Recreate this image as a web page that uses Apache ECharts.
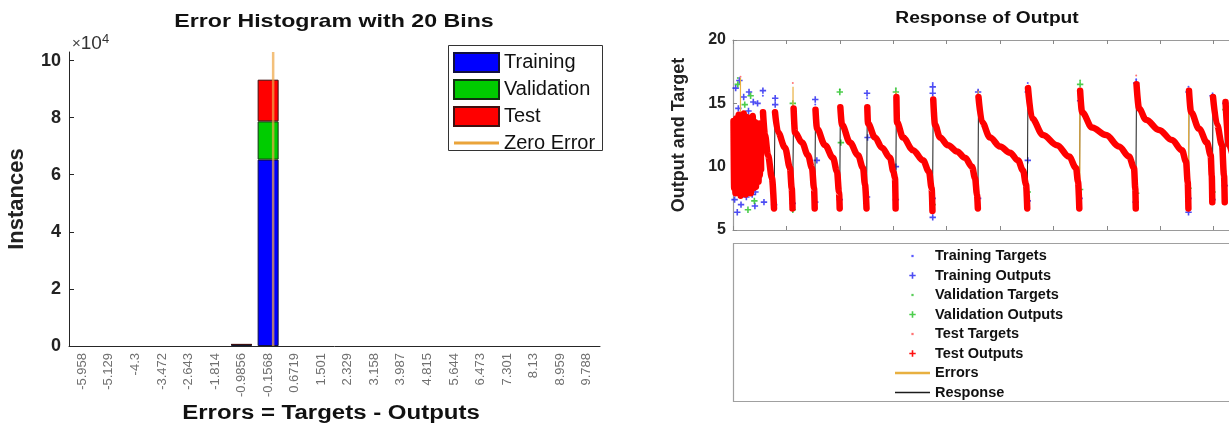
<!DOCTYPE html>
<html>
<head>
<meta charset="utf-8">
<script src="https://cdn.jsdelivr.net/npm/echarts@6/dist/echarts.min.js"></script>
<style>
html,body{margin:0;padding:0;background:#fff;}
#chart{width:1229px;height:427px;}
</style>
</head>
<body>
<div id="chart"></div>
<script>
// ---------- Left: error histogram ----------
const binLabels = ['-5.958','-5.129','-4.3','-3.472','-2.643','-1.814','-0.9856','-0.1568','0.6719','1.501','2.329','3.158','3.987','4.815','5.644','6.473','7.301','8.13','8.959','9.788'];
const trainingCounts   = [0,0,0,0,0,0,400,65300,0,0,0,0,0,0,0,0,0,0,0,0];
const validationCounts = [0,0,0,0,0,0,100,13400,0,0,0,0,0,0,0,0,0,0,0,0];
const testCounts       = [0,0,0,0,0,0,100,14600,0,0,0,0,0,0,0,0,0,0,0,0];
const histYTicks = [0, 2, 4, 6, 8, 10];          // ×10^4
const zeroErrorLine = [[0, 0], [0, 103000]];
const errorRange = [-6.3724, 10.2024];           // outer bin edges

// ---------- Right: response of output (x in thousands of samples) ----------
const noiseBlockY = [13.6,8.3,13.2,7.9,13.8,8.6,12.9,8.0,14.1,8.4,13.4,7.7,13.7,8.9,13.0,8.1,14.2,8.5,13.5,7.8,13.1,8.7,13.9,8.2,12.8,9.0,13.6,7.9,13.3,8.6,14.0,8.3,12.7,8.9,13.5,8.4,13.2,9.1,12.9,8.8,13.4,9.3,12.6,9.8];
const noiseBlockStep = 0.12;
const responseSegments = [
  [[5.62,14.3],[5.99,12.5],[6.55,10.9],[7.30,9.1],[7.68,6.7]],
  [[7.87,14.3],[8.43,12.7],[9.74,11.5],[10.67,9.9],[11.0,8.3],[11.15,6.7]],
  [[11.35,14.6],[11.61,12.7],[12.92,11.9],[14.04,10.9],[14.79,9.9],[15.17,8.3],[15.30,6.7]],
  [[15.45,14.5],[15.73,13.0],[17.23,11.7],[18.73,10.7],[19.48,9.6],[19.85,8.0],[19.98,6.7]],
  [[20.10,14.7],[20.41,13.3],[21.91,11.9],[23.41,10.9],[24.34,9.9],[24.72,8.6],[25.0,6.7]],
  [[25.15,14.7],[25.28,13.4],[26.59,12.3],[27.90,11.5],[29.40,10.7],[30.05,9.6],[30.34,9.1],[30.45,6.7]],
  [[30.60,15.5],[30.71,13.5],[31.84,12.3],[33.71,11.3],[35.58,10.5],[36.70,9.6],[37.2,8.3],[37.35,6.5]],
  [[37.50,15.3],[37.83,13.3],[38.76,12.3],[40.26,11.7],[41.95,11.2],[43.45,10.7],[44.76,10.0],[45.32,9.1],[45.69,7.8],[45.85,6.7]],
  [[45.97,15.5],[46.63,13.5],[48.13,12.3],[50.0,11.6],[51.87,11.1],[53.37,10.5],[54.31,9.7],[54.87,8.6],[55.10,6.7]],
  [[55.24,16.2],[55.99,13.8],[58.05,12.5],[60.67,11.7],[62.92,10.8],[64.23,9.9],[64.61,8.8],[64.85,6.7]],
  [[65.00,16.0],[65.36,14.3],[67.23,13.1],[69.85,12.5],[72.28,11.6],[74.16,10.8],[75.09,9.9],[75.33,8.3],[75.42,6.7]],
  [[75.56,16.5],[76.03,14.6],[77.34,13.7],[79.78,12.9],[82.21,12.1],[84.08,11.3],[84.83,10.4],[85.15,8.8],[85.28,6.7]],
  [[85.39,16.0],[85.77,14.3],[87.27,13.0],[88.76,11.9],[89.45,10.9],[89.65,9.3],[89.75,7.2]],
  [[89.89,15.5],[90.64,13.3],[91.57,11.7],[91.95,9.3],[92.08,7.2]],
  [[92.23,15.1],[92.88,11.7],[93.60,10.8]]
];
const trainingOutputs = [[0.5,16.2],[1.2,16.8],[2.0,15.5],[3.0,15.9],[3.8,15.1],[4.6,15.0],[1.0,14.6],[0.3,7.4],[1.5,7.0],[2.5,7.6],[3.6,7.8],[0.8,6.4],[4.2,8.0],[2.9,14.4],[4.1,6.9],
  [5.6,16.0],[5.8,7.2],[7.9,15.4],[7.9,14.9],[7.7,7.0],[11.2,7.1],[15.4,15.3],[15.7,10.5],[15.4,7.2],[20.0,7.4],[25.1,15.8],[25.2,12.3],[25.1,7.6],
  [30.5,10.0],[30.5,7.4],[37.4,16.3],[37.4,15.8],[37.4,7.5],[37.4,6.0],[45.9,7.5],[45.9,15.9],[55.2,15.9],[55.2,10.5],[55.2,7.3],[64.9,7.5],[65.0,15.2],
  [75.4,7.2],[75.5,16.6],[85.3,15.9],[85.3,7.5],[85.3,6.4],[89.8,7.4],[89.8,15.6],[92.2,15.0],[92.1,8.5]];
const validationOutputs = [[0.9,16.5],[2.2,14.9],[3.3,15.6],[1.8,8.3],[2.8,6.6],[4.0,7.3],[11.2,6.6],[11.2,15.0],[20.0,15.9],[20.2,11.9],
  [30.5,15.9],[37.4,7.0],[55.2,8.0],[65.0,16.5],[65.0,8.2],[75.5,7.9],[85.3,8.3],[89.8,8.0],[92.2,14.5]];
const trainingTargets = [[5.6,15.6],[15.4,14.9],[25.1,15.4],[37.4,16.6],[55.2,16.6],[75.5,16.9],[85.3,16.3]];
const validationTargets = [[0.9,17.0],[20.0,16.1],[30.5,16.2],[65.0,16.8]];
const testTargets = [[1.4,17.1],[11.2,16.6],[45.9,16.0],[75.5,17.2]];
const errorSegments = [
  [[1.4,14.2],[1.4,17.0]],[[11.24,14.6],[11.24,16.3]],[[30.55,13.5],[30.55,15.9]],
  [[64.95,6.7],[64.95,16.0]],[[85.33,6.7],[85.33,16.0]],[[45.92,15.5],[45.92,16.0]]
];

// ---------- build series data ----------
const noBlank = arr => arr.map(v => (v === 0 ? null : v));
const noisePoints = noiseBlockY.map((y, i) => [0.1 + i * noiseBlockStep, y]);
const responseLine = noisePoints.concat(...responseSegments);
const testOutputLine = [];
[noisePoints].concat(responseSegments).forEach((seg, k) => {
  if (k > 0) testOutputLine.push([seg[0][0], null]);
  seg.forEach(p => testOutputLine.push(p));
});
const errorLine = [];
errorSegments.forEach((s, k) => { if (k > 0) errorLine.push([s[0][0], null]); errorLine.push(s[0], s[1]); });

const FONT = '"Liberation Sans", Arial, Helvetica, sans-serif';
const PLUS = 'path://M0 0M10 10M4 1h2v3h3v2h-3v3h-2v-3h-3v-2h3z';
const DOT = 'path://M0 0M10 10M3.6 3.6h2.8v2.8h-2.8z';
const LINE_L = 'path://M0 0H45V3H0Z';
const LINE_R = 'path://M0 0H35V2.6H0Z';
const LINE_R2 = 'path://M0 0H35V1.4H0Z';
const RIGHT_MAX = 92.88;   // visible end of the response axis (figure is cropped)

const chart = echarts.init(document.getElementById('chart'), null, {renderer: 'canvas'});
chart.setOption({
  animation: false,
  backgroundColor: '#fff',
  textStyle: {fontFamily: FONT},
  grid: [
    {left: 69, top: 52, width: 531, height: 294, containLabel: false},
    {left: 733, top: 40, width: 496, height: 190, show: false}
  ],
  xAxis: [
    {type: 'category', gridIndex: 0, data: binLabels,
     axisLine: {onZero: false, lineStyle: {color: '#262626', width: 1}},
     axisTick: {inside: true, alignWithLabel: true, length: 5, lineStyle: {color: '#262626'}},
     axisLabel: {rotate: 90, color: '#707070', fontSize: 13, margin: 7, fontFamily: FONT},
     splitLine: {show: false}},
    {type: 'value', gridIndex: 0, min: errorRange[0], max: errorRange[1], show: false,
     axisLine: {show: false, onZero: false}, axisTick: {show: false}, axisLabel: {show: false}, splitLine: {show: false}},
    {type: 'value', gridIndex: 1, min: 0, max: RIGHT_MAX, interval: 10, position: 'bottom',
     axisLine: {show: true, onZero: false, lineStyle: {color: '#9a9a9a', width: 1.2}}, axisTick: {inside: true, length: 4, lineStyle: {color: '#888'}},
     axisLabel: {show: false}, splitLine: {show: false}},
    {type: 'value', gridIndex: 1, min: 0, max: RIGHT_MAX, interval: 10, position: 'top',
     axisLine: {show: true, onZero: false, lineStyle: {color: '#9a9a9a', width: 1.2}}, axisTick: {inside: true, length: 4, lineStyle: {color: '#888'}},
     axisLabel: {show: false}, splitLine: {show: false}}
  ],
  yAxis: [
    {type: 'value', gridIndex: 0, min: 0, max: 103000, interval: 20000,
     axisLine: {show: true, onZero: false, lineStyle: {color: '#262626'}},
     axisTick: {show: true, inside: true, length: 5, lineStyle: {color: '#262626'}},
     axisLabel: {showMaxLabel: false, color: '#222', fontSize: 18, fontWeight: 'bold', margin: 8,
       formatter: v => (histYTicks.includes(v / 10000) ? String(v / 10000) : '')},
     splitLine: {show: false},
     name: 'Instances', nameLocation: 'middle', nameGap: 41,
     nameTextStyle: {fontSize: 22, fontWeight: 'bold', color: '#222', fontFamily: FONT}},
    {type: 'value', gridIndex: 1, min: 5, max: 20, interval: 5,
     axisLine: {show: true, onZero: false, lineStyle: {color: '#9a9a9a', width: 1.2}},
     axisTick: {show: true, inside: true, length: 4, lineStyle: {color: '#888'}},
     axisLabel: {color: '#222', fontSize: 16, fontWeight: 'bold', margin: 7},
     splitLine: {show: false},
     name: 'Output and Target', nameLocation: 'middle', nameGap: 45,
     nameTextStyle: {fontSize: 18, fontWeight: 'bold', color: '#222', fontFamily: FONT}}
  ],
  legend: [
    {left: 453, top: 52, orient: 'vertical', itemWidth: 45, itemHeight: 19, itemGap: 6,
     selectedMode: false, padding: 0,
     textStyle: {fontSize: 20, lineHeight: 19, color: '#111', fontFamily: FONT},
     data: [
       {name: 'Training', icon: 'rect'},
       {name: 'Validation', icon: 'rect'},
       {name: 'Test', icon: 'rect'},
       {name: 'Zero Error', icon: LINE_L, itemStyle: {color: '#eaa43a', borderWidth: 0}}
     ]},
    {left: 895, top: 248.5, orient: 'vertical', itemWidth: 35, itemHeight: 8, itemGap: 4.5,
     selectedMode: false, padding: 0,
     textStyle: {fontSize: 14.5, lineHeight: 15, fontWeight: 'bold', color: '#111', fontFamily: FONT},
     data: [
       {name: 'Training Targets', icon: DOT},
       {name: 'Training Outputs', icon: PLUS},
       {name: 'Validation Targets', icon: DOT},
       {name: 'Validation Outputs', icon: PLUS},
       {name: 'Test Targets', icon: DOT},
       {name: 'Test Outputs', icon: PLUS},
       {name: 'Errors', icon: LINE_R},
       {name: 'Response', icon: LINE_R2}
     ]}
  ],
  graphic: [
    {type: 'text', x: 334, y: 22, scaleX: 1.22, style: {text: 'Error Histogram with 20 Bins', font: 'bold 19px ' + FONT, fill: '#111', textAlign: 'center', textVerticalAlign: 'middle'}},
    {type: 'text', x: 331, y: 413, scaleX: 1.2, style: {text: 'Errors = Targets - Outputs', font: 'bold 20px ' + FONT, fill: '#111', textAlign: 'center', textVerticalAlign: 'middle'}},
    {type: 'text', x: 72, y: 44, style: {text: '{x|×}{b|10}{s|4}', textVerticalAlign: 'middle', fill: '#333',
      rich: {x: {fontSize: 15, fontFamily: FONT, fill: '#444'}, b: {fontSize: 19, fontFamily: FONT, fill: '#333'}, s: {fontSize: 13, fontFamily: FONT, fill: '#333', verticalAlign: 'top', padding: [0,0,9,0]}}}},
    {type: 'rect', shape: {x: 448.5, y: 45.5, width: 154, height: 105}, style: {fill: 'none', stroke: '#333', lineWidth: 1}},
    {type: 'text', x: 987, y: 19, scaleX: 1.2, style: {text: 'Response of Output', font: 'bold 16px ' + FONT, fill: '#111', textAlign: 'center', textVerticalAlign: 'middle'}},
    {type: 'rect', shape: {x: 733.5, y: 243.5, width: 520, height: 158}, style: {fill: 'none', stroke: '#a0a0a0', lineWidth: 1.2}}
  ],
  series: [
    {name: 'Training', type: 'bar', xAxisIndex: 0, yAxisIndex: 0, stack: 'h', data: noBlank(trainingCounts), barWidth: 21,
     itemStyle: {color: '#0000ff', borderColor: '#101040', borderWidth: 1}},
    {name: 'Validation', type: 'bar', xAxisIndex: 0, yAxisIndex: 0, stack: 'h', data: noBlank(validationCounts), barWidth: 21,
     itemStyle: {color: '#00cc00', borderColor: '#103010', borderWidth: 1}},
    {name: 'Test', type: 'bar', xAxisIndex: 0, yAxisIndex: 0, stack: 'h', data: noBlank(testCounts), barWidth: 21,
     itemStyle: {color: '#ff0000', borderColor: '#401010', borderWidth: 1}},
    {name: 'Zero Error', type: 'line', xAxisIndex: 1, yAxisIndex: 0, data: zeroErrorLine, symbol: 'none', z: 5,
     lineStyle: {color: '#eea848', width: 2.5, opacity: 0.72}, itemStyle: {color: '#eaa43a'}},

    {name: 'Response', type: 'line', xAxisIndex: 2, yAxisIndex: 1, data: responseLine, symbol: 'none',
     lineStyle: {color: '#1c1c1c', width: 1}, itemStyle: {color: '#1c1c1c'}},
    {name: 'Errors', type: 'line', xAxisIndex: 2, yAxisIndex: 1, data: errorLine, symbol: 'none', connectNulls: false,
     lineStyle: {color: '#e8b040', width: 1.2}, itemStyle: {color: '#e8b040'}},
    {name: 'Test Outputs', type: 'line', xAxisIndex: 2, yAxisIndex: 1, data: testOutputLine, symbol: 'none', connectNulls: false,
     smooth: 0.35, smoothMonotone: 'x',
     lineStyle: {color: '#ff0000', width: 6.5, cap: 'round', join: 'round'}, itemStyle: {color: '#ff1010'}},
    {name: 'Training Targets', type: 'scatter', xAxisIndex: 2, yAxisIndex: 1, data: trainingTargets, symbol: 'circle', symbolSize: 2,
     itemStyle: {color: '#3030ff'}},
    {name: 'Validation Targets', type: 'scatter', xAxisIndex: 2, yAxisIndex: 1, data: validationTargets, symbol: 'circle', symbolSize: 2,
     itemStyle: {color: '#30c030'}},
    {name: 'Test Targets', type: 'scatter', xAxisIndex: 2, yAxisIndex: 1, data: testTargets, symbol: 'circle', symbolSize: 2,
     itemStyle: {color: '#ff5050'}},
    {name: 'Training Outputs', type: 'scatter', xAxisIndex: 2, yAxisIndex: 1, data: trainingOutputs, symbol: PLUS, symbolSize: 8,
     itemStyle: {color: '#2020f0'}},
    {name: 'Validation Outputs', type: 'scatter', xAxisIndex: 2, yAxisIndex: 1, data: validationOutputs, symbol: PLUS, symbolSize: 8,
     itemStyle: {color: '#20c020'}}
  ]
});
</script>
</body>
</html>
